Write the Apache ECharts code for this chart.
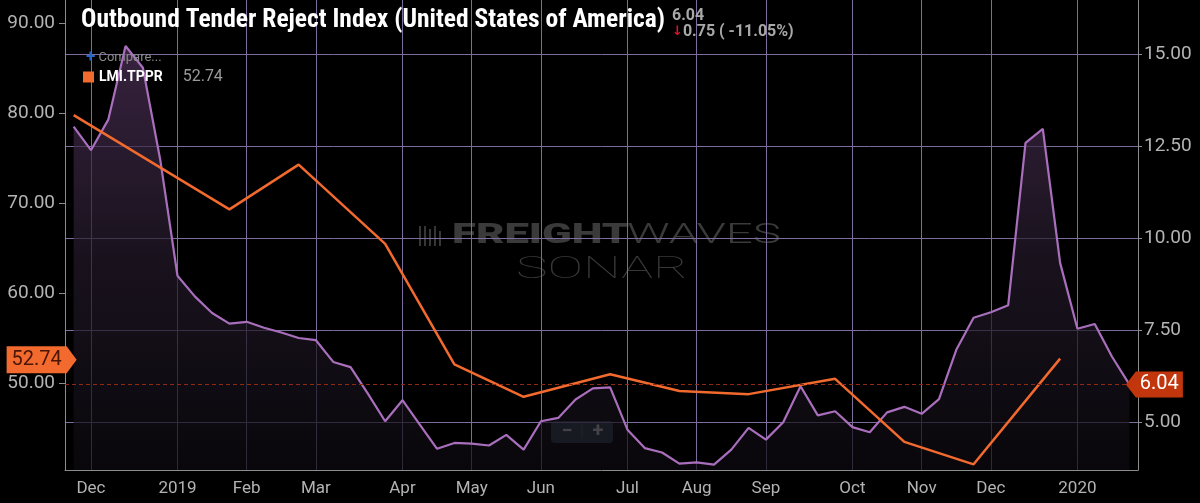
<!DOCTYPE html>
<html>
<head>
<meta charset="utf-8">
<title>Outbound Tender Reject Index</title>
<script src="https://cdn.jsdelivr.net/npm/echarts@6/dist/echarts.min.js"></script>
<style>
  html, body { margin: 0; padding: 0; background: #000; }
  #chart { width: 1200px; height: 503px; }
</style>
</head>
<body>
<div id="chart"></div>
<script>
// weekly points (x axis categories)
var weeks = [
    '2018-11-25', '2018-12-02', '2018-12-09', '2018-12-16', '2018-12-23', '2018-12-30',
    '2019-01-06', '2019-01-13', '2019-01-20', '2019-01-27', '2019-02-03', '2019-02-10',
    '2019-02-17', '2019-02-24', '2019-03-03', '2019-03-10', '2019-03-17', '2019-03-24',
    '2019-03-31', '2019-04-07', '2019-04-14', '2019-04-21', '2019-04-28', '2019-05-05',
    '2019-05-12', '2019-05-19', '2019-05-26', '2019-06-02', '2019-06-09', '2019-06-16',
    '2019-06-23', '2019-06-30', '2019-07-07', '2019-07-14', '2019-07-21', '2019-07-28',
    '2019-08-04', '2019-08-11', '2019-08-18', '2019-08-25', '2019-09-01', '2019-09-08',
    '2019-09-15', '2019-09-22', '2019-09-29', '2019-10-06', '2019-10-13', '2019-10-20',
    '2019-10-27', '2019-11-03', '2019-11-10', '2019-11-17', '2019-11-24', '2019-12-01',
    '2019-12-08', '2019-12-15', '2019-12-22', '2019-12-29', '2020-01-05', '2020-01-12',
    '2020-01-19', '2020-01-26'
];

// Outbound Tender Reject Index (right axis)
var otriValues = [
    13.04, 12.40, 13.23, 15.23, 14.64, 12.15, 8.99, 8.43, 7.98, 7.69,
    7.74, 7.58, 7.45, 7.30, 7.24, 6.65, 6.51, 5.79, 5.04, 5.61,
    4.95, 4.29, 4.45, 4.43, 4.38, 4.67, 4.27, 5.04, 5.13, 5.63,
    5.93, 5.96, 4.81, 4.31, 4.19, 3.89, 3.92, 3.86, 4.27, 4.86,
    4.54, 5.01, 5.99, 5.20, 5.31, 4.88, 4.74, 5.28, 5.43, 5.24,
    5.64, 6.98, 7.85, 8.00, 8.19, 12.60, 12.98, 9.34, 7.55, 7.68,
    6.79, 6.04
];

// LMI.TPPR, monthly (left axis)
var lmiDates = [
    '2018-11-25', '2019-01-27', '2019-02-24', '2019-03-31', '2019-04-28', '2019-05-26',
    '2019-06-30', '2019-07-28', '2019-08-25', '2019-09-29', '2019-10-27', '2019-11-24',
    '2019-12-29'
];
var lmiValues = [79.8, 69.33, 74.3, 65.5, 52.1, 48.5, 51.0, 49.15, 48.8, 50.5, 43.5, 41.0, 52.74];

var leftTicks = [50, 60, 70, 80, 90];
var rightTicks = [5, 7.5, 10, 12.5, 15];
var monthNames = ['Jan', 'Feb', 'Mar', 'Apr', 'May', 'Jun', 'Jul', 'Aug', 'Sep', 'Oct', 'Nov', 'Dec'];

var lastOtri = otriValues[otriValues.length - 1];
var prevOtri = otriValues[otriValues.length - 2];
var chg = lastOtri - prevOtri;
var chgPct = chg / prevOtri * 100;
var lastLmi = lmiValues[lmiValues.length - 1];

var gridColor = '#7d6d9c';
var axisColor = '#8c8c8c';
var labelColor = '#b3b3b3';
var condensed = "'Roboto Condensed', 'Liberation Sans Narrow', 'DejaVu Sans Condensed', Roboto, sans-serif";

// first weekly point in each month gets a label / grid line
function firstOfMonth(index, value) {
    return Number(value.slice(8)) <= 7;
}

var lmiData = [];
for (var i = 0; i < lmiDates.length; i++) {
    lmiData.push([lmiDates[i], lmiValues[i]]);
}

var chart = echarts.init(document.getElementById('chart'));
var option = {
    backgroundColor: '#000',
    animation: false,
    title: [
        {
            text: 'Outbound Tender Reject Index (United States of America)',
            left: 76, top: 3,
            textStyle: { color: '#fff', fontSize: 25.5, fontWeight: 'bold', fontFamily: condensed }
        },
        {
            text: '{a|' + lastOtri.toFixed(2) + '}\n{r|↓}{b|' + Math.abs(chg).toFixed(2) + ' ( ' + chgPct.toFixed(2) + '%)}',
            left: 667, top: 3,
            textStyle: {
                rich: {
                    a: { color: '#a8a8a8', fontSize: 16, lineHeight: 16, fontFamily: 'Roboto' },
                    r: { color: '#e3102b', fontSize: 13, fontWeight: 'bold', lineHeight: 16, fontFamily: 'DejaVu Sans' },
                    b: { color: '#a8a8a8', fontSize: 16, lineHeight: 16, fontFamily: 'Roboto' }
                }
            }
        },
        {
            text: '{p|+}{c| Compare...}',
            left: 81, top: 44,
            textStyle: {
                rich: {
                    p: { color: '#2a66c8', fontSize: 17, fontWeight: 'bold', fontFamily: 'Roboto' },
                    c: { color: '#8a8a8a', fontSize: 13, fontWeight: 'normal', fontFamily: 'Roboto' }
                }
            }
        }
    ],
    legend: {
        left: 78, top: 64,
        icon: 'rect', itemWidth: 11, itemHeight: 11,
        data: ['LMI.TPPR'],
        formatter: function (name) {
            return '{n|' + name + '}{v|' + lastLmi.toFixed(2) + '}';
        },
        textStyle: {
            rich: {
                n: { color: '#fff', fontSize: 14, fontWeight: 'bold', fontFamily: 'Roboto' },
                v: { color: '#9a9a9a', fontSize: 16, fontFamily: 'Roboto', padding: [0, 0, 0, 20] }
            }
        }
    },
    grid: { left: 65, right: 62, top: 0, bottom: 33 },
    xAxis: {
        type: 'category',
        data: weeks,
        boundaryGap: true,
        axisLine: { lineStyle: { color: axisColor } },
        axisTick: { alignWithLabel: true, interval: firstOfMonth, length: 6, lineStyle: { color: axisColor } },
        axisLabel: {
            interval: firstOfMonth,
            margin: 10,
            color: labelColor,
            fontSize: 17,
            fontFamily: 'Roboto',
            formatter: function (value) {
                var m = Number(value.slice(5, 7));
                return m === 1 ? value.slice(0, 4) : monthNames[m - 1];
            }
        },
        splitLine: { show: true, alignWithLabel: true, interval: firstOfMonth, lineStyle: { color: gridColor, width: 1 } }
    },
    yAxis: [
        {
            type: 'value', position: 'left',
            min: 40.37, max: 92.59,
            axisLine: { show: true, lineStyle: { color: axisColor } },
            axisTick: { show: true, length: 6, customValues: leftTicks, lineStyle: { color: axisColor } },
            axisLabel: {
                customValues: leftTicks,
                formatter: function (v) { return v.toFixed(2); },
                color: labelColor, fontSize: 19, margin: 10, fontFamily: 'Roboto'
            },
            splitLine: { show: false }
        },
        {
            type: 'value', position: 'right',
            min: 3.715, max: 16.48,
            axisLine: { show: true, lineStyle: { color: axisColor } },
            axisTick: { show: true, length: 4, customValues: rightTicks, lineStyle: { color: axisColor } },
            axisLabel: {
                customValues: rightTicks,
                formatter: function (v) { return v.toFixed(2); },
                color: labelColor, fontSize: 19, margin: 6, fontFamily: 'Roboto'
            },
            splitLine: { show: true, customValues: rightTicks, lineStyle: { color: gridColor, width: 1 } }
        }
    ],
    graphic: [
        {
            type: 'group', left: 419, top: 226, z: -10, silent: true,
            children: [
                { type: 'rect', shape: { x: 0, y: 0, width: 2, height: 20 }, style: { fill: '#363636' } },
                { type: 'rect', shape: { x: 5, y: 0, width: 2, height: 20 }, style: { fill: '#363636' } },
                { type: 'rect', shape: { x: 10, y: 3, width: 2, height: 17 }, style: { fill: '#363636' } },
                { type: 'rect', shape: { x: 15, y: 0, width: 2, height: 20 }, style: { fill: '#363636' } },
                { type: 'rect', shape: { x: 20, y: 5, width: 2, height: 15 }, style: { fill: '#363636' } }
            ]
        },
        {
            type: 'text', left: 452, top: 222, z: -10, silent: true, scaleX: 1.56,
            style: { text: 'FREIGHT', fill: '#3a3a3a', font: '900 28px Roboto' }
        },
        {
            type: 'text', left: 627, top: 222, z: -10, silent: true, scaleX: 1.7,
            style: { text: 'WAVES', fill: '#3a3a3a', font: '300 28px Roboto' }
        },
        {
            type: 'text', left: 516, top: 255, z: -10, silent: true, scaleX: 1.72,
            style: { text: 'SONAR', fill: '#383838', font: '100 31px Roboto' }
        },
        {
            type: 'group', left: 551, top: 421, z: 100, silent: true,
            children: [
                { type: 'rect', shape: { x: 0, y: 0, width: 62, height: 22, r: 4 }, style: { fill: '#253840' } },
                { type: 'line', shape: { x1: 31, y1: 4, x2: 31, y2: 18 }, style: { stroke: '#4b5b63', lineWidth: 1 } },
                { type: 'text', x: 16, y: 11, style: { text: '−', fill: '#bdbdbd', font: 'bold 20px Roboto', align: 'center', verticalAlign: 'middle' } },
                { type: 'text', x: 47, y: 11, style: { text: '+', fill: '#bdbdbd', font: 'bold 20px Roboto', align: 'center', verticalAlign: 'middle' } }
            ]
        }
    ],
    series: [
        {
            name: 'Outbound Tender Reject Index',
            type: 'line',
            yAxisIndex: 1,
            data: otriValues,
            showSymbol: false,
            clip: false,
            lineStyle: { color: '#a96fbd', width: 2.2 },
            itemStyle: { color: '#a96fbd' },
            areaStyle: {
                color: new echarts.graphic.LinearGradient(0, 0, 0, 1, [
                    { offset: 0, color: '#4f3159' },
                    { offset: 0.5, color: '#241a2a' },
                    { offset: 1, color: '#0d0a10' }
                ])
            },
            markLine: {
                silent: true,
                symbol: 'none',
                label: { show: false },
                lineStyle: { type: [4, 3], color: '#8e2b12', width: 1 },
                data: [{ yAxis: lastOtri }]
            },
            markPoint: {
                silent: true,
                symbol: 'path://M0,13 L10,0 L57,0 L57,26 L10,26 Z',
                symbolSize: [57, 26],
                symbolOffset: [25, 0],
                itemStyle: { color: '#c2360e' },
                label: {
                    show: true, position: 'inside', offset: [5, 0],
                    color: '#fff', fontSize: 20, fontFamily: 'Roboto',
                    formatter: function () { return lastOtri.toFixed(2); }
                },
                data: [{ coord: [weeks[weeks.length - 1], lastOtri] }]
            }
        },
        {
            name: 'LMI.TPPR',
            type: 'line',
            yAxisIndex: 0,
            data: lmiData,
            showSymbol: false,
            clip: false,
            lineStyle: { color: '#f26a2e', width: 2.5 },
            itemStyle: { color: '#f26a2e' },
            markPoint: {
                silent: true,
                symbol: 'path://M0,0 L60,0 L70,13.5 L60,27 L0,27 Z',
                symbolSize: [70, 27],
                symbolOffset: [-32, 1],
                itemStyle: { color: '#f26a2e' },
                label: {
                    show: true, position: 'inside', offset: [-5, 0],
                    color: '#4a1505', fontSize: 20, fontFamily: 'Roboto',
                    formatter: function () { return lastLmi.toFixed(2); }
                },
                data: [{ coord: [lmiDates[0], lastLmi] }]
            }
        }
    ]
};
chart.setOption(option);

window.onresize = function () {
    chart.resize();
};
</script>
</body>
</html>
